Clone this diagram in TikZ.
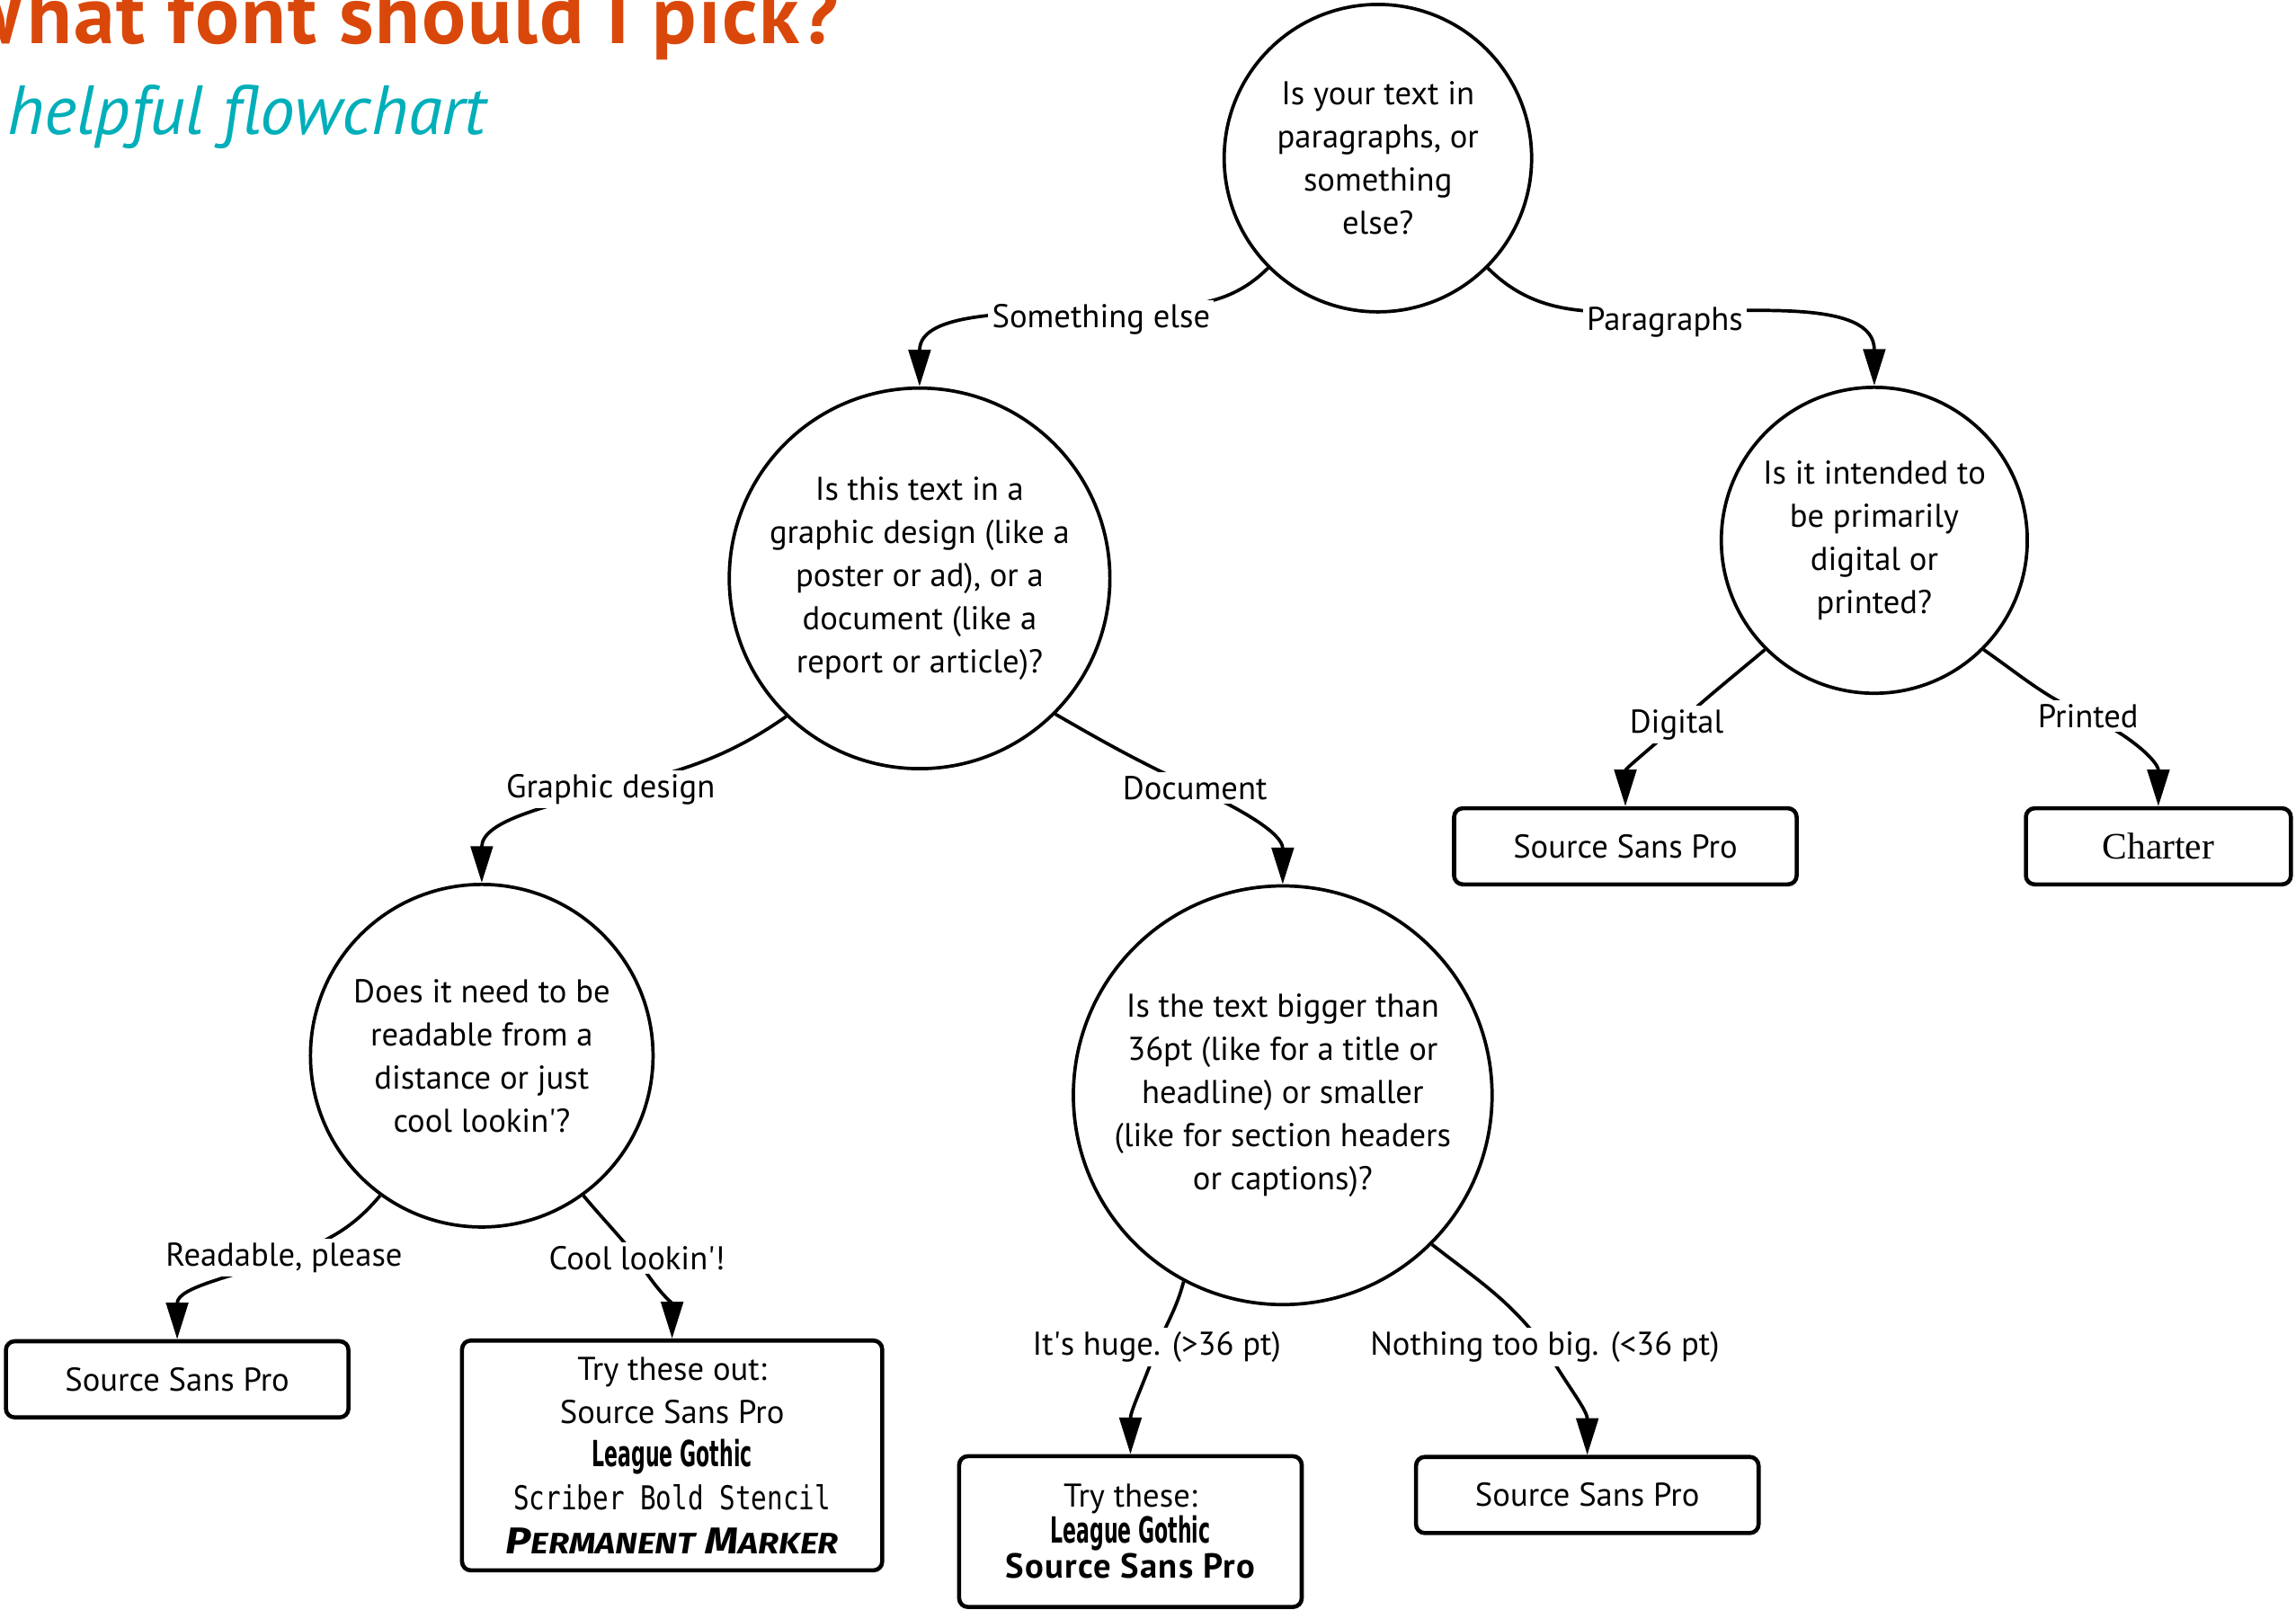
\documentclass[tikz,border=0pt]{standalone}
\usepackage{fontspec}
\setmainfont{PT Sans}
\newfontfamily\gothicfont[FakeStretch=0.55]{DejaVu Sans}
\newfontfamily\stencilfont[FakeStretch=0.8]{DejaVu Sans Mono}
\newfontfamily\markerfont[FakeStretch=1.15]{Fira Sans}
\newfontfamily\charterfont{Liberation Serif}
\usetikzlibrary{arrows.meta, backgrounds}
\definecolor{ttlorange}{HTML}{D9480A}
\definecolor{ttlteal}{HTML}{00AFB9}
\newcommand{\aps}{\textquotesingle}
\tikzset{
  dgm/.style={x=0.02cm, y=-0.02cm, font=\fontsize{12.8}{16.8}\selectfont,
              >={Triangle[length=5mm, width=3mm]}, line width=1.3pt},
  qst/.style={draw, circle, align=center, inner sep=0pt},
  ans/.style={draw, rounded corners=1.2mm, align=center, line width=1.6pt,
              inner sep=0pt, minimum width=4.68cm, minimum height=1.04cm},
  lbl/.style={fill=white, inner sep=1.5pt},
  ar/.style={->, line width=1.3pt}
}

\begin{document}
\begin{tikzpicture}[dgm]
    \useasboundingbox (0,0) rectangle (1568,1099);

    \node[anchor=base east, text=ttlorange,
          font=\fontsize{32}{34}\selectfont\bfseries\addfontfeature{LetterSpace=2}]
         (ttl) at (580,30) {What font should I pick?};
    \node[anchor=base west, inner sep=0pt, text=ttlteal,
          font=\fontsize{27}{30}\selectfont\itshape]
         (sub) at (4,92) {helpful flowchart};

    % questions
    \node[qst, minimum size=4.2cm] (q1) at (941,108)
         {Is your text in\\paragraphs, or\\something\\else?};
    \node[qst, minimum size=5.2cm] (q2) at (628,395)
         {Is this text in a\\graphic design (like a\\poster or ad), or a\\document (like a\\report or article)?};
    \node[qst, minimum size=4.18cm] (q3) at (1280,369)
         {Is it intended to\\be primarily\\digital or\\printed?};
    \node[qst, minimum size=4.68cm] (q4) at (329,721)
         {Does it need to be\\readable from a\\distance or just\\cool lookin\aps?};
    \node[qst, minimum size=5.72cm] (q5) at (876,748)
         {Is the text bigger than\\36pt (like for a title or\\headline) or smaller\\(like for section headers\\or captions)?};

    % answers
    \node[ans] (srcdig) at (1110,578) {Source Sans Pro};
    \node[ans, minimum width=3.62cm] (charter) at (1474,578)
         {\charterfont\fontsize{14.5}{16}\selectfont Charter};
    \node[ans] (srcread) at (121,942) {Source Sans Pro};
    \node[ans, minimum width=5.74cm, minimum height=3.14cm] (cool) at (459,994)
         {Try these out:\\Source Sans Pro\\
          {\gothicfont\bfseries\fontsize{14}{16}\selectfont League Gothic}\\
          {\stencilfont Scriber Bold Stencil}\\
          {\markerfont\bfseries\itshape\fontsize{14.5}{16}\selectfont
           P{\fontsize{11.5}{14}\selectfont ERMANENT} M{\fontsize{11.5}{14}\selectfont ARKER}}};
    \node[ans, minimum height=2.06cm] (huge) at (772,1046)
         {Try these:\\[-3pt]
          {\gothicfont\bfseries\fontsize{14}{16}\selectfont League Gothic}\\[-3pt]
          {\bfseries\fontsize{13.5}{16}\selectfont\addfontfeature{LetterSpace=3}Source Sans Pro}};
    \node[ans] (srcsmall) at (1084,1021) {Source Sans Pro};

    % branch labels
    \node[lbl] (l1) at (752,218) {Something else};
    \node[lbl] (l2) at (1137,220) {Paragraphs};
    \node[lbl] (l3) at (417,539) {Graphic design};
    \node[lbl] (l4) at (816,538) {Document};
    \node[lbl] (l5) at (1145,495) {Digital};
    \node[lbl] (l6) at (1426,489) {Printed};
    \node[lbl] (l7) at (194,859) {Readable, please};
    \node[lbl] (l8) at (435,859) {Cool lookin\aps!};
    \node[lbl] (l9) at (790,920) {It\aps s huge. (>36 pt)};
    \node[lbl] (l10) at (1055,920) {Nothing too big. (<36 pt)};

    \begin{scope}[on background layer]
      \draw[ar] (q1.-135) to[out=-135, in=4] ([yshift=4pt]l1.center)
                to[out=184, in=90] (q2.north);
      \draw[ar] (q1.-45) to[out=-45, in=180] ([yshift=4pt]l2.center)
                to[out=0, in=90] (q3.north);
      \draw[ar] (q2.-134) to[out=-145, in=15] (l3.center) to[out=195, in=90] (q4.north);
      \draw[ar] (q2.-45) to[out=-30, in=155] (l4.center) to[out=-25, in=90] (q5.north);
      \draw[ar] (q3.-135) to[out=-140, in=42] (l5.center) to[out=222, in=90] (srcdig.north);
      \draw[ar] (q3.-45) to[out=-35, in=156] (l6.center) to[out=-24, in=90] (charter.north);
      \draw[ar] (q4.-126) to[out=-130, in=21] (l7.center) to[out=201, in=90] (srcread.north);
      \draw[ar] (q4.-54) to[out=-50, in=129] (l8.center) to[out=-60, in=90] (cool.north);
      \draw[ar] (q5.-118) to[out=-105, in=67] (l9.center) to[out=-110, in=90] (huge.north);
      \draw[ar] (q5.-45) to[out=-38, in=127] (l10.center) to[out=-60, in=90] (srcsmall.north);
    \end{scope}
\end{tikzpicture}
\end{document}
